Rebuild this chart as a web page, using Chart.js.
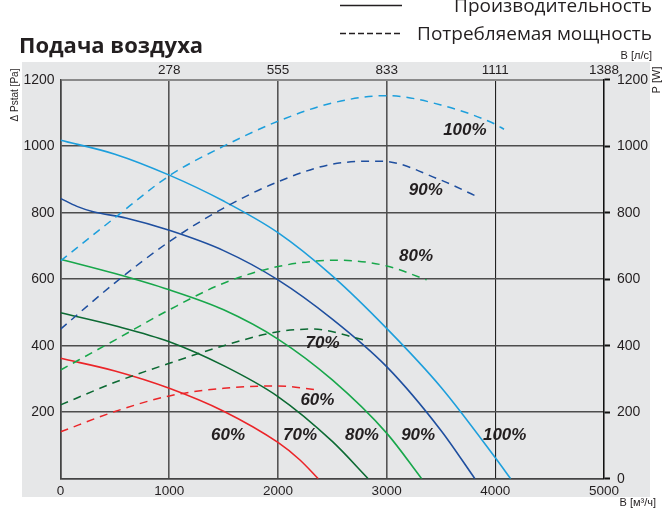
<!DOCTYPE html>
<html>
<head>
<meta charset="utf-8">
<script src="https://cdn.jsdelivr.net/npm/chart.js@4.4.1/dist/chart.umd.min.js"></script>
<style>
  html, body { margin: 0; padding: 0; background: #fff; }
  #wrap { width: 663px; height: 511px; }
</style>
</head>
<body>
<div id="wrap"><canvas id="fanchart" width="663" height="511"></canvas></div>
<script>
// air flow, m3/h  /  static pressure, Pa (solid curves)
const flow100 = [0, 500, 1000, 1500, 2000, 2500, 3000, 3500, 4000, 4141];
const press100 = [1018, 976, 913, 835, 740, 610, 452, 275, 63, 0];
const flow90 = [0, 150, 300, 600, 1000, 1500, 2000, 2500, 3000, 3500, 3812];
const press90 = [843, 819, 803, 784, 747, 686, 598, 480, 337, 145, 0];
const flow80 = [0, 500, 1000, 1500, 2000, 2500, 3000, 3322];
const press80 = [660, 617, 568, 508, 420, 297, 137, 0];
const flow70 = [0, 500, 1000, 1500, 2000, 2500, 2830];
const press70 = [499, 460, 412, 340, 247, 112, 0];
const flow60 = [0, 500, 1000, 1500, 2000, 2200, 2371];
const press60 = [362, 324, 272, 203, 109, 57, 0];

// air flow, m3/h  /  power consumption, W (dashed curves)
const pflow100 = [0, 500, 1000, 1500, 2000, 2500, 3000, 3500, 4000, 4080];
const power100 = [655, 785, 911, 1000, 1075, 1130, 1152, 1124, 1066, 1051];
const pflow90 = [0, 500, 1000, 1500, 2000, 2500, 2950, 3500, 3815];
const power90 = [450, 589, 713, 814, 893, 946, 955, 898, 851];
const pflow80 = [0, 500, 1000, 1500, 2000, 2550, 3000, 3368];
const power80 = [327, 417, 508, 588, 638, 657, 640, 598];
const pflow70 = [0, 500, 1000, 1500, 2000, 2324, 2796];
const power70 = [222, 290, 347, 400, 442, 450, 417];
const pflow60 = [0, 500, 1000, 1500, 2000, 2371];
const power60 = [141, 202, 249, 272, 279, 267];

const speeds = ['100%', '90%', '80%', '70%', '60%'];
const flowTicks = [0, 1000, 2000, 3000, 4000, 5000];
const litreTicks = ['', '278', '555', '833', '1111', '1388'];

const colors = ['#1d9fdc', '#1f4f9f', '#18a74b', '#0c6a33', '#eb2529'];

function pts(xs, ys) {
    return xs.map(function (x, i) { return { x: x, y: ys[i] }; });
}

const solidSets = [[flow100, press100], [flow90, press90], [flow80, press80], [flow70, press70], [flow60, press60]];
const dashSets = [[pflow100, power100], [pflow90, power90], [pflow80, power80], [pflow70, power70], [pflow60, power60]];

var datasets = [];
dashSets.forEach(function (s, i) {
    datasets.push({
        label: 'P ' + speeds[i],
        data: pts(s[0], s[1]),
        yAxisID: 'y2',
        borderColor: colors[i],
        borderWidth: 1.5,
        borderDash: [8, 6],
    });
});
solidSets.forEach(function (s, i) {
    datasets.push({
        label: 'Pstat ' + speeds[i],
        data: pts(s[0], s[1]),
        yAxisID: 'y',
        borderColor: colors[i],
        borderWidth: 1.6,
    });
});

// percentage labels next to the curves, in axis units
const curveLabels = [
    ['100%', 3720, 1049], ['90%', 3360, 868], ['80%', 3270, 668], ['70%', 2410, 408], ['60%', 2363, 236],
    ['60%', 1541, 131], ['70%', 2203, 131], ['80%', 2773, 131], ['90%', 3290, 131], ['100%', 4086, 131]
];

const backdrop = {
    id: 'backdrop',
    beforeDraw: function (chart) {
        var c = chart.ctx;
        c.save();
        c.fillStyle = '#e6e7e8';
        c.fillRect(22, 62, 628, 435);
        c.restore();
    },
    afterDraw: function (chart) {
        var c = chart.ctx;
        c.save();
        c.fillStyle = '#231f20';
        c.strokeStyle = '#231f20';

        // title
        c.font = 'bold 22px "Open Sans"';
        c.textAlign = 'left';
        c.textBaseline = 'alphabetic';
        c.fillText('Подача воздуха', 19, 53);

        // legend
        c.font = '19px "Open Sans"';
        c.textAlign = 'right';
        c.fillText('Производительность', 652, 12);
        c.fillText('Потребляемая мощность', 652, 40);
        c.lineWidth = 1.5;
        c.beginPath();
        c.moveTo(340, 5.5);
        c.lineTo(402, 5.5);
        c.stroke();
        c.setLineDash([6, 3]);
        c.beginPath();
        c.moveTo(340, 33.5);
        c.lineTo(402, 33.5);
        c.stroke();
        c.setLineDash([]);

        // unit captions
        c.font = '11px "Liberation Sans"';
        c.fillText('В [л/с]', 652, 59);
        c.fillText('В [м³/ч]', 656, 506);
        c.textAlign = 'center';
        c.textBaseline = 'middle';
        c.save();
        c.translate(15, 95);
        c.rotate(-Math.PI / 2);
        c.font = '10px "Liberation Sans"';
        c.fillText('Δ Pstat [Pa]', 0, 0);
        c.restore();
        c.save();
        c.translate(657, 80);
        c.rotate(-Math.PI / 2);
        c.fillText('P [W]', 0, 0);
        c.restore();

        // speed labels
        var sx = chart.scales.x, sy = chart.scales.y;
        c.font = 'italic bold 17px "Liberation Sans"';
        curveLabels.forEach(function (l) {
            c.fillText(l[0], sx.getPixelForValue(l[1]), sy.getPixelForValue(l[2]));
        });
        c.restore();
    }
};

Chart.defaults.font.family = '"Liberation Sans", Arial, sans-serif';
Chart.defaults.font.size = 13.5;
Chart.defaults.color = '#231f20';

function plain(v) { return String(v); }

var ctx = document.getElementById('fanchart').getContext('2d');
var fanChart = new Chart(ctx, {
    type: 'line',
    data: { datasets: datasets },
    options: {
        responsive: false,
        maintainAspectRatio: false,
        animation: false,
        layout: { padding: 0 },
        elements: {
            point: { radius: 0 },
            line: { cubicInterpolationMode: 'monotone', fill: false }
        },
        plugins: {
            legend: { display: false },
            tooltip: { enabled: false }
        },
        scales: {
            x: {
                type: 'linear',
                position: 'bottom',
                min: 0,
                max: 5000,
                afterBuildTicks: function (s) { s.ticks = flowTicks.map(function (v) { return { value: v }; }); },
                afterFit: function (s) { s.height = 32.3; },
                ticks: { padding: 4, maxRotation: 0, callback: plain },
                grid: {
                    drawTicks: false,
                    color: function (c) { return c.tick && c.tick.value >= 4000 ? '#222' : '#555'; },
                    lineWidth: function (c) { return c.tick && c.tick.value >= 4000 ? 1.1 : 1.6; }
                },
                border: { color: '#444', width: 1.5 }
            },
            xTop: {
                type: 'linear',
                position: 'top',
                min: 0,
                max: 5000,
                afterBuildTicks: function (s) { s.ticks = flowTicks.map(function (v) { return { value: v }; }); },
                afterFit: function (s) { s.height = 79.7; },
                ticks: {
                    padding: -7,
                    maxRotation: 0,
                    callback: function (v, i) { return litreTicks[i]; }
                },
                grid: { display: false },
                border: { display: false }
            },
            y: {
                type: 'linear',
                position: 'left',
                min: 0,
                max: 1200,
                ticks: {
                    stepSize: 200,
                    padding: 6,
                    font: { size: 14 },
                    callback: function (v) { return v === 0 ? '' : String(v); }
                },
                afterFit: function (s) { s.width = 60.6; },
                grid: {
                    drawTicks: false,
                    color: function (c) { return c.tick && c.tick.value === 1200 ? '#8a8a8a' : '#4d4d4d'; },
                    lineWidth: function (c) { return c.tick && c.tick.value === 1200 ? 2 : 1.5; }
                },
                border: { color: '#444', width: 1.5 }
            },
            y2: {
                type: 'linear',
                position: 'right',
                min: 0,
                max: 1200,
                ticks: { stepSize: 200, padding: 7, font: { size: 14 }, callback: plain },
                afterFit: function (s) { s.width = 59; },
                grid: {
                    drawOnChartArea: false,
                    drawTicks: true,
                    tickLength: 6,
                    tickColor: '#111',
                    tickWidth: 2
                },
                border: { color: '#111', width: 1.5 }
            }
        }
    },
    plugins: [backdrop]
});
</script>
</body>
</html>
